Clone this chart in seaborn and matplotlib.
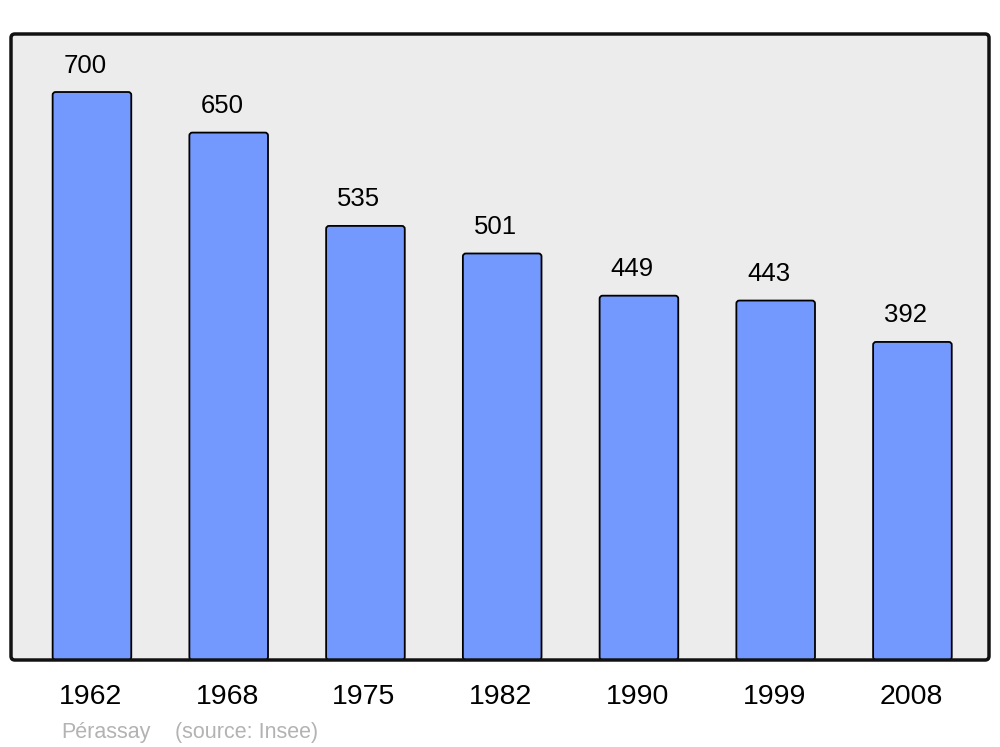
import matplotlib
matplotlib.use("Agg")
import matplotlib.pyplot as plt
from matplotlib.patches import FancyBboxPatch
from matplotlib.transforms import ScaledTranslation
import seaborn as sns
import pandas as pd

years = ["1962", "1968", "1975", "1982", "1990", "1999", "2008"]
population = [700, 650, 535, 501, 449, 443, 392]
commune = "Pérassay"
source = "(source: Insee)"

sns.set_style("white")
plt.rcParams["font.family"] = ["Liberation Sans", "DejaVu Sans"]

df = pd.DataFrame({"year": years, "pop": population})

fig = plt.figure(figsize=(10, 7.47), dpi=100)
ax = fig.add_axes([0.011, 1 - 660 / 747, 0.978, 626 / 747])

sns.barplot(data=df, x="year", y="pop", color="#7399ff", saturation=1,
            edgecolor="black", linewidth=1.3, width=0.575, ax=ax, zorder=2)

ax.set_xlim(-0.592, 6.56)
ax.set_ylim(0, 771.5)

# rounded bar corners
for p in list(ax.patches):
    x, y = p.get_x(), p.get_y()
    w, h = p.get_width(), p.get_height()
    fb = FancyBboxPatch((x, y), w, h,
                        boxstyle="round,pad=0,rounding_size=0.022",
                        mutation_aspect=168,
                        facecolor=p.get_facecolor(), edgecolor="black",
                        linewidth=1.3, zorder=2)
    p.remove()
    ax.add_patch(fb)

for i, v in enumerate(population):
    ax.annotate(str(v), (i, v), xytext=(-4.8, 14), textcoords="offset points",
                ha="center", va="baseline", fontsize=18.5, color="black")

ax.set_xlabel("")
ax.set_ylabel("")
ax.set_yticks([])
ax.tick_params(axis="x", length=0, pad=17, labelsize=20.5, labelcolor="black")
shift = ScaledTranslation(-1.5 / 100, 0, fig.dpi_scale_trans)
for lbl in ax.get_xticklabels():
    lbl.set_transform(lbl.get_transform() + shift)

# background + rounded frame
ax.patch.set_visible(False)
for s in ax.spines.values():
    s.set_visible(False)
bg = FancyBboxPatch((0, 0), 1, 1, boxstyle="round,pad=0,rounding_size=0.004",
                    mutation_aspect=978 / 626, transform=ax.transAxes,
                    facecolor="#ececec", edgecolor="none", zorder=0,
                    clip_on=False)
ax.add_patch(bg)
frame = FancyBboxPatch((0, 0), 1, 1, boxstyle="round,pad=0,rounding_size=0.004",
                       mutation_aspect=978 / 626, transform=ax.transAxes,
                       facecolor="none", edgecolor="#111111", linewidth=2.5,
                       zorder=5, clip_on=False)
ax.add_patch(frame)

fig.text(0.061, 1 - 738 / 747, commune, fontsize=15.5, color="#b3b3b3",
         ha="left", va="baseline")
fig.text(0.175, 1 - 738 / 747, source, fontsize=15.5, color="#b3b3b3",
         ha="left", va="baseline")

fig.savefig("out.png", dpi=100, facecolor="white")
